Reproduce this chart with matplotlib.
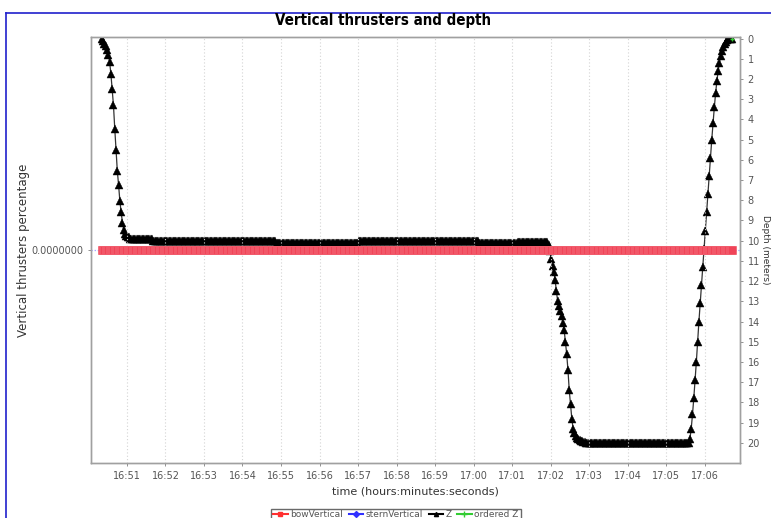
import datetime as dt
import matplotlib
matplotlib.use("Agg")
import matplotlib.pyplot as plt
import matplotlib.dates as mdates
from matplotlib.lines import Line2D

# Depth log, one sample every 2 seconds starting 16:50:21
START = dt.datetime(2010, 1, 1, 16, 50, 21)
SAMPLE_SECONDS = 2

descent_1 = [0.0, 0.12, 0.25, 0.37, 0.55, 0.8, 1.15, 1.75, 2.5, 3.3, 4.45,
             5.5, 6.55, 7.25, 8.05, 8.6, 9.1, 9.45, 9.67, 9.75, 9.8, 9.82]
plateau_1 = [(9.9, 18), (10.0, 96), (10.1, 64), (10.0, 94), (10.1, 30), (10.05, 23)]
descent_2 = [10.05, 10.2, 10.5, 10.9, 11.25, 11.55, 11.95, 12.5, 13.0, 13.25,
             13.5, 13.75, 14.05, 14.4, 15.0, 15.6, 16.4, 17.4, 18.1, 18.8,
             19.3, 19.5, 19.65, 19.77, 19.83, 19.87, 19.9, 19.93, 19.95,
             19.97, 19.99]
plateau_2 = [(20.0, 79)]
ascent = [20.0, 19.8, 19.3, 18.6, 17.8, 16.9, 16.0, 15.0, 14.0, 13.1, 12.2,
          11.3, 10.4, 9.5, 8.6, 7.7, 6.8, 5.9, 5.0, 4.2, 3.4, 2.7, 2.1, 1.6,
          1.2, 0.85, 0.6, 0.4, 0.25, 0.15, 0.08, 0.03, 0.0, 0.0, 0.0]
thruster_value = 0.0
ordered_z = [0.0]

tick_minutes = [(16, m) for m in range(51, 60)] + [(17, m) for m in range(0, 7)]


def expand(runs):
    out = []
    for value, count in runs:
        out += [value] * count
    return out


depth = descent_1 + expand(plateau_1) + descent_2 + expand(plateau_2) + ascent
times = [START + dt.timedelta(seconds=SAMPLE_SECONDS * i) for i in range(len(depth))]
bow = [thruster_value] * len(depth)
stern = [thruster_value] * len(depth)

W, H = 771, 518
fig = plt.figure(figsize=(W / 100, H / 100), dpi=100)
ax = fig.add_axes([91 / W, 1 - 463 / H, (740 - 91) / W, (463 - 37) / H])
ax2 = ax.twinx()

grey = "#808080"
label_grey = "#555555"

# thrusters on left axis
ax.axhline(0, color="#9a9aff", lw=0.9, ls=(0, (1, 1.5)), zorder=1)
ax.plot(times, stern, color="#3030ff", lw=1, marker="D", ms=2.5, zorder=2)
ax.plot(times, bow, color="#f04458", lw=1.5, marker="s", ms=5.2,
        markeredgewidth=0.5, markeredgecolor="#f26070", zorder=3)
ax.set_ylim(-1, 1)
ax.set_yticks([0])
ax.set_yticklabels(["0.0000000"])
ax.set_ylabel("Vertical thrusters percentage", fontsize=8.5, color="#333333", labelpad=1)

# depth on right axis
ax2.plot(times, depth, color="#333333", lw=0.9, zorder=4)
ax2.plot(times, depth, color="black", lw=0, marker="^", ms=5.8,
         markeredgewidth=0.3, markeredgecolor="black", zorder=4)
ax2.plot(times[-1:], ordered_z, color="#33cc33", marker="+", ms=3, lw=0, zorder=5)
ax2.set_ylim(21.0, -0.08)
ax2.set_yticks(range(0, 21))
ax2.set_ylabel("Depth (meters)", fontsize=6.5, color="#333333", rotation=270, labelpad=7)
ax.set_zorder(ax2.get_zorder() + 1)
ax.patch.set_visible(False)

# time axis
ax.set_xlim(dt.datetime(2010, 1, 1, 16, 50, 4), dt.datetime(2010, 1, 1, 17, 6, 55))
ax.set_xticks([dt.datetime(2010, 1, 1, h, m) for h, m in tick_minutes])
ax.xaxis.set_major_formatter(mdates.DateFormatter("%H:%M"))
ax.grid(axis="x", color="#d4d4d4", lw=0.8, ls=(0, (1, 2)))
ax.set_xlabel("time (hours:minutes:seconds)", fontsize=8, color="#333333", labelpad=4)

for a in (ax, ax2):
    a.tick_params(labelsize=7, labelcolor=label_grey, color=grey, length=2, width=0.6)
    for s in a.spines.values():
        s.set_color("#a0a0a0")
        s.set_linewidth(1.0)

fig.suptitle("Vertical thrusters and depth", x=0.497, y=0.975, fontsize=10.8,
             fontweight="bold", fontstretch="condensed",
             family=["DejaVu Sans Condensed", "DejaVu Sans"])

# legend at bottom, partly cut by the edge as in the original
handles = [
    Line2D([], [], color="#ff3030", marker="s", ms=3),
    Line2D([], [], color="#3030ff", marker="D", ms=3),
    Line2D([], [], color="black", marker="^", ms=3),
    Line2D([], [], color="#33cc33", marker="+", ms=4),
]
fig.legend(handles, ["bowVertical", "sternVertical", "Z", "ordered Z"],
           loc="upper center", bbox_to_anchor=(396 / W, 14 / H), ncol=4,
           fontsize=6.5, frameon=True, fancybox=False, edgecolor="#444444",
           handlelength=1.6, handletextpad=0.3, columnspacing=0.6,
           borderpad=0.2, labelcolor="#555555")

# blue window border on left and top
fig.add_artist(Line2D([6 / W, 6 / W], [0, 1 - 13 / H], color="#2020cc", lw=1.2))
fig.add_artist(Line2D([6 / W, 1], [1 - 13 / H, 1 - 13 / H], color="#2020cc", lw=1.2))

fig.savefig("out.png", dpi=100)
